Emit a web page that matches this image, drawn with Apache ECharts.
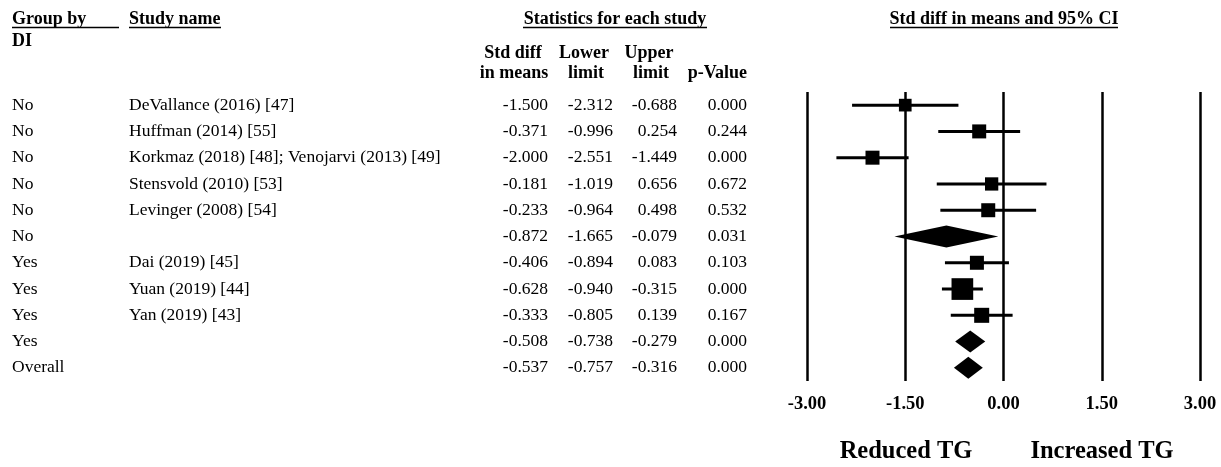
<!DOCTYPE html>
<html>
<head>
<meta charset="utf-8">
<script src="https://cdn.jsdelivr.net/npm/echarts@6/dist/echarts.min.js"></script>
<style>
  html, body { margin: 0; padding: 0; background: #fff; }
  #chart { width: 1221px; height: 467px; }
</style>
</head>
<body>
<div id="chart"></div>
<script>
const groups = ['No', 'No', 'No', 'No', 'No', 'No', 'Yes', 'Yes', 'Yes', 'Yes', 'Overall']
const studies = [
  'DeVallance (2016) [47]',
  'Huffman (2014) [55]',
  'Korkmaz (2018) [48]; Venojarvi (2013) [49]',
  'Stensvold (2010) [53]',
  'Levinger (2008) [54]',
  '',
  'Dai (2019) [45]',
  'Yuan (2019) [44]',
  'Yan (2019) [43]',
  '',
  '',
]
const stdDiff = [-1.500, -0.371, -2.000, -0.181, -0.233, -0.872, -0.406, -0.628, -0.333, -0.508, -0.537]
const lowerLimit = [-2.312, -0.996, -2.551, -1.019, -0.964, -1.665, -0.894, -0.940, -0.805, -0.738, -0.757]
const upperLimit = [-0.688, 0.254, -1.449, 0.656, 0.498, -0.079, 0.083, -0.315, 0.139, -0.279, -0.316]
const pValues = ['0.000', '0.244', '0.000', '0.672', '0.532', '0.031', '0.103', '0.000', '0.167', '0.000', '0.000']
// study rows get a box, pooled rows get a diamond
const rowKind = ['study', 'study', 'study', 'study', 'study', 'pooled', 'study', 'study', 'study', 'pooled', 'pooled']
// relative weight (box area)
const relWeight = [0.82, 1, 1, 0.9, 1, null, 1, 2.4, 1.15, null, null]
const xTicks = [-3, -1.5, 0, 1.5, 3]

const fontFamily = "'Liberation Serif', 'Times New Roman', serif"
const rowIds = groups.map((_, i) => String(i))

const chart = echarts.init(document.getElementById('chart'), null, { renderer: 'canvas' })

const gridLeft = 807
const fmt = (v) => v.toFixed(3)

// text columns drawn as label-only category axes
const textAxis = (x, align, getText) => ({
  type: 'category',
  data: rowIds,
  inverse: true,
  position: 'left',
  offset: gridLeft - x,
  axisLine: { show: false },
  axisTick: { show: false },
  splitLine: { show: false },
  axisLabel: {
    interval: 0,
    margin: 0,
    align: align,
    color: '#000',
    fontFamily: fontFamily,
    fontSize: 17.5,
    formatter: (v) => getText(+v),
  },
})

const headText = (text, x, y, align, opts) => ({
  type: 'text',
  x: x,
  y: y,
  style: Object.assign({
    text: text,
    fill: '#000',
    fontFamily: fontFamily,
    fontSize: 18,
    fontWeight: 'bold',
    align: align,
    textAlign: align,
    verticalAlign: 'middle',
    textVerticalAlign: 'middle',
  }, opts || {}),
})

const underline = (x1, x2, y) => ({
  type: 'line',
  shape: { x1: x1, y1: y, x2: x2, y2: y },
  style: { stroke: '#000', lineWidth: 1.4 },
})

const option = {
  backgroundColor: '#fff',
  animation: false,
  grid: { left: gridLeft, right: 21, top: 92, bottom: 86 },
  xAxis: {
    type: 'value',
    min: xTicks[0],
    max: xTicks[xTicks.length - 1],
    interval: 1.5,
    axisLine: { show: false },
    axisTick: { show: false },
    splitLine: { show: true, lineStyle: { color: '#000', width: 2.5 } },
    axisLabel: {
      margin: 14,
      color: '#000',
      fontFamily: fontFamily,
      fontSize: 18.5,
      fontWeight: 'bold',
      formatter: (v) => v.toFixed(2),
    },
  },
  yAxis: [
    {
      type: 'category',
      data: rowIds,
      inverse: true,
      axisLine: { show: false },
      axisTick: { show: false },
      axisLabel: { show: false },
      splitLine: { show: false },
    },
    textAxis(12, 'left', (i) => groups[i]),
    textAxis(129, 'left', (i) => studies[i]),
    textAxis(548, 'right', (i) => fmt(stdDiff[i])),
    textAxis(613, 'right', (i) => fmt(lowerLimit[i])),
    textAxis(677, 'right', (i) => fmt(upperLimit[i])),
    textAxis(747, 'right', (i) => pValues[i]),
  ],
  graphic: [
    headText('Group by', 12, 19, 'left'),
    underline(12, 119, 27.5),
    headText('DI', 12, 41, 'left'),
    headText('Study name', 129, 19, 'left'),
    underline(129, 221, 27.5),
    headText('Statistics for each study', 615, 19, 'center'),
    underline(523, 707, 27.5),
    headText('Std diff', 513, 53, 'center'),
    headText('in means', 514, 73, 'center'),
    headText('Lower', 584, 53, 'center'),
    headText('limit', 586, 73, 'center'),
    headText('Upper', 649, 53, 'center'),
    headText('limit', 651, 73, 'center'),
    headText('p-Value', 747, 73, 'right'),
    headText('Std diff in means and 95% CI', 1004, 19, 'center'),
    underline(890, 1118, 27.5),
    headText('Reduced TG', 906, 452, 'center', { fontSize: 24.5 }),
    headText('Increased TG', 1102, 452, 'center', { fontSize: 24.5 }),
  ],
  series: [
    {
      type: 'custom',
      xAxisIndex: 0,
      yAxisIndex: 0,
      data: stdDiff.map((v, i) => [v, i, lowerLimit[i], upperLimit[i]]),
      encode: { x: [0, 2, 3], y: 1 },
      renderItem: (params, api) => {
        const i = api.value(1)
        const mid = api.coord([api.value(0), i])
        const lo = api.coord([api.value(2), i])
        const hi = api.coord([api.value(3), i])
        const y = mid[1]
        if (rowKind[i] === 'pooled') {
          const h = 11
          return {
            type: 'polygon',
            shape: { points: [[lo[0], y], [mid[0], y - h], [hi[0], y], [mid[0], y + h]] },
            style: { fill: '#000' },
          }
        }
        const side = 14 * Math.sqrt(relWeight[i])
        return {
          type: 'group',
          children: [
            {
              type: 'line',
              shape: { x1: lo[0], y1: y, x2: hi[0], y2: y },
              style: { stroke: '#000', lineWidth: 3 },
            },
            {
              type: 'rect',
              shape: { x: mid[0] - side / 2, y: y - side / 2, width: side, height: side },
              style: { fill: '#000' },
            },
          ],
        }
      },
    },
  ],
}

chart.setOption(option)
</script>
</body>
</html>
